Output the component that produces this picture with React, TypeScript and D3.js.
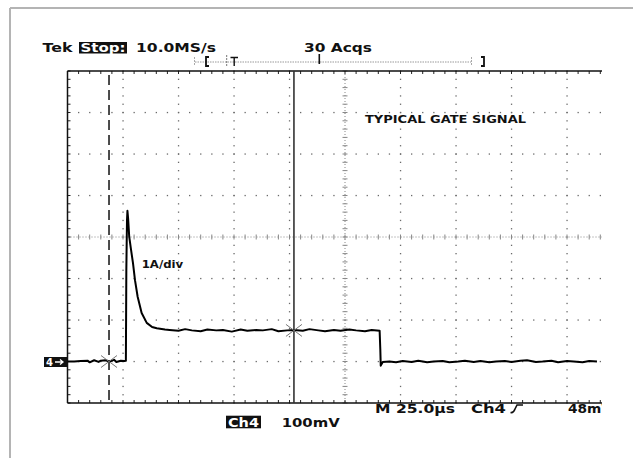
import React from "react";
import * as d3 from "d3";

// ---- data (time in µs from left graticule edge, current in A; 1 A/div, 25 µs/div) ----
const preTime = [0, 3, 6, 9, 10, 12, 14, 15, 17, 19, 21, 22, 24, 25.5, 26.3];
const preAmp = [0.0, 0.0, 0.01, 0.02, -0.02, 0.03, -0.01, 0.02, 0.03, 0.0, 0.04, -0.01, 0.02, 0.01, 0.02];

const pulseTime = [26.5, 26.8, 27.0, 27.3, 27.8, 28.6, 29.5, 30.4, 31.6, 33.4, 35.7, 38.1, 40.2, 43.9];
const pulseAmp = [2.2, 3.4, 3.63, 3.45, 3.01, 2.7, 2.37, 1.96, 1.56, 1.17, 0.93, 0.83, 0.8, 0.77];

const plateauTime = [46, 50, 53, 56, 60, 63, 67, 70, 74, 78, 81, 85, 88, 92, 95, 99, 102, 106, 109, 113, 116, 120, 123, 127, 130, 134, 137, 140.6];
const plateauAmp = [0.76, 0.74, 0.78, 0.75, 0.73, 0.77, 0.75, 0.76, 0.72, 0.77, 0.74, 0.76, 0.75, 0.78, 0.73, 0.75, 0.76, 0.74, 0.78, 0.75, 0.73, 0.76, 0.74, 0.77, 0.75, 0.73, 0.76, 0.74];

const fallTime = [140.9, 141.1, 142.0];
const fallAmp = [0.3, -0.1, -0.01];

const postTime = [145, 148, 151, 155, 158, 162, 165, 169, 172, 176, 179, 183, 186, 190, 193, 197, 200, 204, 207, 211, 214, 218, 221, 225, 228, 232, 235, 238.5];
const postAmp = [0.0, -0.02, 0.01, -0.01, 0.02, -0.02, 0.0, 0.01, -0.02, 0.0, 0.02, -0.01, 0.01, -0.02, 0.0, 0.01, -0.01, 0.02, 0.03, -0.01, 0.0, 0.02, -0.02, 0.01, 0.0, -0.02, 0.01, 0.0];

const cursorDashedTime = 18.7;
const cursorSolidTime = 102.0;
const markerTimes = [18.7, 102.0];
const markerAmps = [0.0, 0.75];

const headerLabels = ["Tek", "Stop:", "10.0MS/s", "30 Acqs"];
const footerLabels = ["M 25.0µs", "Ch4", "48mV", "Ch4", "100mV"];
const titleLabel = "TYPICAL GATE SIGNAL";
const scaleLabel = "1A/div";

const X_DIVS = 10;
const Y_DIVS = 8;
const T_PER_DIV = 25;

export default function App() {
  const W = 633;
  const H = 458;
  const x = d3.scaleLinear().domain([0, X_DIVS * T_PER_DIV]).range([67.5, 622.5]);
  const y = d3.scaleLinear().domain([-1, 7]).range([403, 71]);
  const clipRight = 602;

  const pts: [number, number][] = [];
  const addSeg = (ts: number[], as: number[]) => ts.forEach((t, i) => pts.push([t, as[i]]));
  addSeg(preTime, preAmp);
  addSeg(pulseTime, pulseAmp);
  addSeg(plateauTime, plateauAmp);
  addSeg(fallTime, fallAmp);
  addSeg(postTime, postAmp);
  const line = d3.line<[number, number]>().x((d) => x(d[0])).y((d) => y(d[1]));

  const minorT = d3.range(0, X_DIVS * T_PER_DIV + 0.01, T_PER_DIV / 5);
  const minorA = d3.range(-1, 7.001, 0.2);
  const majorT = d3.range(1, X_DIVS).map((k) => k * T_PER_DIV);
  const majorA = d3.range(0, Y_DIVS - 1).map((k) => k);
  const centerT = 5 * T_PER_DIV;
  const centerA = 3;

  const dotColor = "#6a6a6a";
  const font = "'DejaVu Sans', Verdana, sans-serif";

  const x0 = x(0);
  const yTop = y(7);
  const yBot = y(-1);

  return (
    <svg width={W} height={H} style={{ position: "absolute", left: 0, top: 0, background: "#fff" }}>
      <defs>
        <clipPath id="scope">
          <rect x={0} y={0} width={clipRight} height={H} />
        </clipPath>
      </defs>
      {/* outer frame */}
      <line x1={10} y1={8} x2={W} y2={8} stroke="#b4b4b4" strokeWidth={2} />
      <line x1={10} y1={8} x2={10} y2={H} stroke="#b4b4b4" strokeWidth={2} />

      <g clipPath="url(#scope)">
        {/* dotted grid lines */}
        {majorT.filter((t) => t !== centerT).map((t) =>
          minorA.map((a, i) => (
            <rect key={`vd${t}-${i}`} x={x(t) - 0.6} y={y(a) - 0.6} width={1.3} height={1.3} fill={dotColor} />
          ))
        )}
        {majorA.filter((a) => a !== centerA).map((a) =>
          minorT.map((t, i) => (
            <rect key={`hd${a}-${i}`} x={x(t) - 0.6} y={y(a) - 0.6} width={1.3} height={1.3} fill={dotColor} />
          ))
        )}
        {/* center lines with tick marks */}
        <line x1={x0} x2={x(250)} y1={y(centerA)} y2={y(centerA)} stroke="#888" strokeWidth={1} strokeDasharray="1 2" />
        {minorT.map((t, i) => (
          <line key={`ct${i}`} x1={x(t)} x2={x(t)} y1={y(centerA) - 2.5} y2={y(centerA) + 2.5} stroke="#888" strokeWidth={1} />
        ))}
        <line x1={x(centerT)} x2={x(centerT)} y1={yTop} y2={yBot} stroke="#888" strokeWidth={1} strokeDasharray="1 2" />
        {minorA.map((a, i) => (
          <line key={`cta${i}`} x1={x(centerT) - 2.5} x2={x(centerT) + 2.5} y1={y(a)} y2={y(a)} stroke="#888" strokeWidth={1} />
        ))}

        {/* border ticks */}
        {minorT.map((t, i) => (
          <g key={`bt${i}`}>
            <line x1={x(t)} x2={x(t)} y1={yTop} y2={yTop + 3} stroke="#222" strokeWidth={1} />
            <line x1={x(t)} x2={x(t)} y1={yBot} y2={yBot - 3} stroke="#222" strokeWidth={1} />
          </g>
        ))}
        {minorA.map((a, i) => (
          <line key={`lt${i}`} x1={x0} x2={x0 + 3} y1={y(a)} y2={y(a)} stroke="#222" strokeWidth={1} />
        ))}

        {/* graticule border */}
        <line x1={x0} x2={x(250)} y1={yTop} y2={yTop} stroke="#111" strokeWidth={1.5} />
        <line x1={x0} x2={x(250)} y1={yBot} y2={yBot} stroke="#111" strokeWidth={1.5} />
        <line x1={x0} x2={x0} y1={yTop} y2={yBot} stroke="#111" strokeWidth={1.5} />

        {/* cursors */}
        <line x1={x(cursorDashedTime)} x2={x(cursorDashedTime)} y1={yTop + 4} y2={yBot} stroke="#111" strokeWidth={1.5} strokeDasharray="10 5" />
        <line x1={x(cursorSolidTime)} x2={x(cursorSolidTime)} y1={yTop} y2={yBot} stroke="#333" strokeWidth={1.6} />

        {/* trace */}
        <path d={line(pts) || ""} fill="none" stroke="#000" strokeWidth={2} strokeLinejoin="round" />

        {/* cursor/trace markers */}
        {markerTimes.map((t, i) => {
          const cx = x(t);
          const cy = y(markerAmps[i]);
          return (
            <g key={`mk${i}`} stroke="#777" strokeWidth={1}>
              <line x1={cx - 8} x2={cx + 8} y1={cy - 6} y2={cy + 6} />
              <line x1={cx - 8} x2={cx + 8} y1={cy + 6} y2={cy - 6} />
            </g>
          );
        })}

        {/* footer labels */}
        <g fontFamily={font} fontWeight="bold" fontSize={11.5} fill="#111">
          <text x={375} y={413} textLength={80} lengthAdjust="spacingAndGlyphs">{footerLabels[0]}</text>
          <text x={471} y={413} textLength={35} lengthAdjust="spacingAndGlyphs">{footerLabels[1]}</text>
          <path d="M510.5,412.5 C513,413 514,412 515,409 L517,405 L523,405" fill="none" stroke="#111" strokeWidth={1.6} />
          <text x={568} y={413} textLength={44} lengthAdjust="spacingAndGlyphs">{footerLabels[2]}</text>
        </g>
      </g>

      {/* ground marker */}
      <rect x={44} y={357} width={23} height={10} fill="#111" />
      <text x={46} y={366} fontFamily={font} fontWeight="bold" fontSize={10} fill="#fff">4</text>
      <path d="M55,362 L63,362 M60,359.5 L63,362 L60,364.5" stroke="#fff" strokeWidth={1.3} fill="none" />

      {/* header */}
      <g fontFamily={font} fontWeight="bold" fontSize={12.5} fill="#111">
        <text x={42.5} y={52} textLength={30} lengthAdjust="spacingAndGlyphs">{headerLabels[0]}</text>
        <rect x={79} y={42} width={48} height={11.5} fill="#111" />
        <text x={80.5} y={52} fill="#fff" textLength={45} lengthAdjust="spacingAndGlyphs">{headerLabels[1]}</text>
        <text x={136} y={52} textLength={80} lengthAdjust="spacingAndGlyphs">{headerLabels[2]}</text>
        <text x={304} y={52} textLength={68} lengthAdjust="spacingAndGlyphs">{headerLabels[3]}</text>
      </g>

      {/* record bracket row */}
      <g>
        <line x1={195} x2={471} y1={62} y2={62} stroke="#999" strokeWidth={1} strokeDasharray="1.5 1" />
        <line x1={194.5} x2={194.5} y1={57} y2={66} stroke="#aaa" strokeWidth={1} strokeDasharray="2 1" />
        <line x1={471.5} x2={471.5} y1={57} y2={66} stroke="#aaa" strokeWidth={1} strokeDasharray="2 1" />
        <path d="M209,57 L206,57 L206,66 L209,66" stroke="#111" strokeWidth={1.8} fill="none" />
        <line x1={226.7} x2={226.7} y1={55} y2={67} stroke="#777" strokeWidth={1} strokeDasharray="2 1" />
        <path d="M230.5,57.5 L238,57.5 M234.2,57.5 L234.2,66" stroke="#111" strokeWidth={1.4} fill="none" />
        <line x1={319.3} x2={319.3} y1={54} y2={64} stroke="#111" strokeWidth={1.6} />
        <path d="M481,57 L484,57 L484,66 L481,66" stroke="#111" strokeWidth={1.8} fill="none" />
      </g>

      {/* annotations */}
      <text x={365} y={123} fontFamily={font} fontWeight="bold" fontSize={10} fill="#111" textLength={161} lengthAdjust="spacingAndGlyphs">{titleLabel}</text>
      <text x={141.7} y={267.5} fontFamily={font} fontWeight="bold" fontSize={11} fill="#111" textLength={41.5} lengthAdjust="spacingAndGlyphs">{scaleLabel}</text>

      {/* channel readout */}
      <rect x={226} y={415.7} width={35} height={12.6} fill="#111" />
      <text x={228} y={426.5} fontFamily={font} fontWeight="bold" fontSize={11.5} fill="#fff" textLength={31} lengthAdjust="spacingAndGlyphs">{footerLabels[3]}</text>
      <text x={281.7} y={426.7} fontFamily={font} fontWeight="bold" fontSize={11.5} fill="#111" textLength={58} lengthAdjust="spacingAndGlyphs">{footerLabels[4]}</text>
    </svg>
  );
}
